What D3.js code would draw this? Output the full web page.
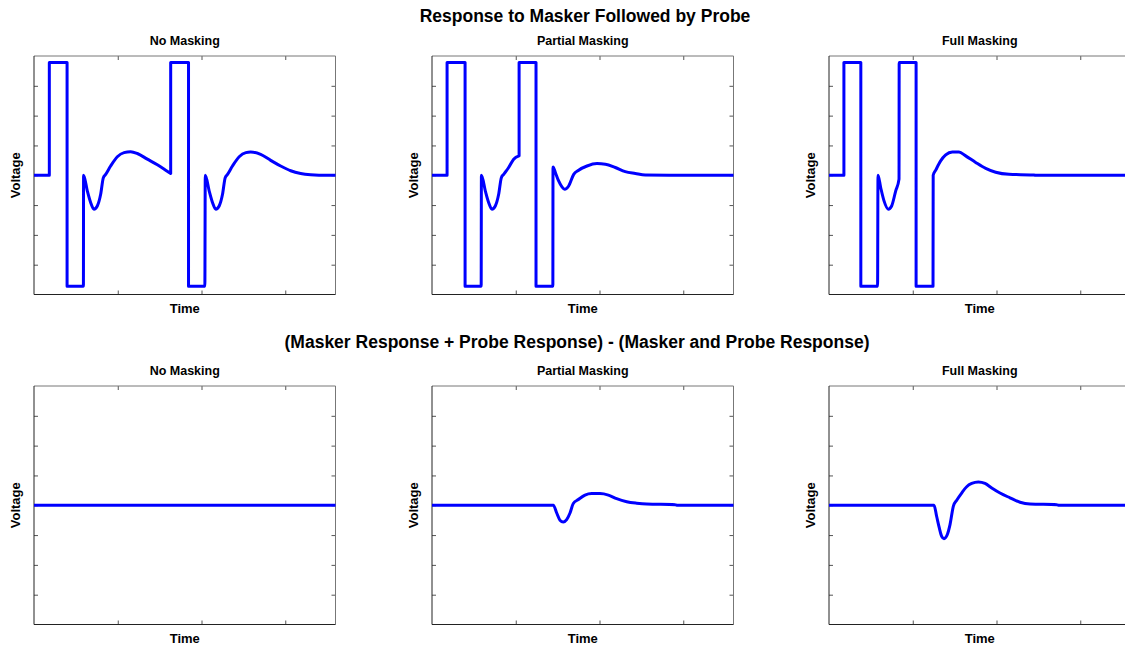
<!DOCTYPE html>
<html>
<head>
<meta charset="utf-8">
<script src="https://cdn.jsdelivr.net/npm/d3@7"></script>
<style>
  body { margin: 0; background: #fff; }
  svg { display: block; font-family: "Liberation Sans", Arial, sans-serif; }
</style>
</head>
<body>
<div id="chart"></div>
<script>
// titles
var rowTitles = ["Response to Masker Followed by Probe",
                 "(Masker Response + Probe Response) - (Masker and Probe Response)"];
var panelTitles = ["No Masking", "Partial Masking", "Full Masking"];

// tick values (labels are hidden, like the original)
var timeTicks = [1, 2, 3];
var voltTicks = [-3, -2, -1, 0, 1, 2, 3];

// top row: response to masker followed by probe
var noMaskTime = [0, 0.183, 0.183, 0.395, 0.395, 0.59, 0.592, 0.637, 0.677, 0.716, 0.756, 0.796, 0.828, 0.856, 0.915, 0.995, 1.075, 1.154, 1.234, 1.353, 1.473, 1.572, 1.632,
                  1.632, 1.845, 1.845, 2.04, 2.045, 2.092, 2.132, 2.171, 2.211, 2.251, 2.283, 2.311, 2.37, 2.45, 2.53, 2.587, 2.706, 2.826, 2.945, 3.065, 3.184, 3.303, 3.502, 3.6];
var noMaskVolt = [0, 0, 3.78, 3.78, -3.72, -3.72, 0, -0.53, -0.92, -1.14, -1.03, -0.64, -0.08, 0.03, 0.31, 0.62, 0.76, 0.79, 0.73, 0.54, 0.35, 0.17, 0.06,
                  3.78, 3.78, -3.72, -3.72, 0, -0.53, -0.92, -1.14, -1.03, -0.64, -0.08, 0.03, 0.31, 0.62, 0.76, 0.78, 0.70, 0.50, 0.31, 0.15, 0.06, 0.02, 0, 0];

var partMaskTime = [0, 0.18, 0.18, 0.395, 0.395, 0.587, 0.59, 0.637, 0.677, 0.716, 0.756, 0.796, 0.828, 0.856, 0.915, 0.975, 1.04,
                    1.04, 1.242, 1.242, 1.443, 1.445, 1.473, 1.512, 1.552, 1.584, 1.632, 1.692, 1.751, 1.851, 1.97, 2.07, 2.189, 2.308, 2.428, 2.547, 2.925, 3.6];
var partMaskVolt = [0, 0, 3.78, 3.78, -3.72, -3.72, 0, -0.53, -0.92, -1.14, -1.03, -0.64, -0.08, 0.03, 0.26, 0.54, 0.65,
                    3.78, 3.78, -3.72, -3.72, 0.28, 0.09, -0.19, -0.39, -0.47, -0.36, 0.03, 0.17, 0.31, 0.39, 0.37, 0.26, 0.12, 0.06, 0.01, 0, 0];

var fullMaskTime = [0, 0.178, 0.178, 0.38, 0.38, 0.58, 0.585, 0.617, 0.657, 0.708, 0.748, 0.796, 0.836,
                    0.838, 1.04, 1.04, 1.242, 1.244, 1.274, 1.333, 1.393, 1.473, 1.552, 1.632, 1.751, 1.871, 1.99, 2.149, 2.428, 2.468, 3.6];
var fullMaskVolt = [0, 0, 3.78, 3.78, -3.72, -3.72, 0, -0.41, -0.86, -1.14, -1.03, -0.53, -0.13,
                    3.78, 3.78, -3.72, -3.72, 0, 0.17, 0.48, 0.68, 0.78, 0.78, 0.65, 0.43, 0.23, 0.10, 0.03, 0.01, 0, 0];

// bottom row: (masker + probe) - (masker and probe)
var noDiffTime = [0, 3.6];
var noDiffVolt = [0, 0];

var partDiffTime = [0, 1.449, 1.489, 1.528, 1.568, 1.608, 1.648, 1.687, 1.747, 1.827, 1.907, 2.006, 2.106, 2.205, 2.325, 2.444, 2.563, 2.902, 2.922, 3.6];
var partDiffVolt = [0, 0, -0.26, -0.50, -0.56, -0.48, -0.26, 0.06, 0.19, 0.34, 0.39, 0.39, 0.34, 0.22, 0.12, 0.07, 0.04, 0.02, 0, 0];

var fullDiffTime = [0, 1.254, 1.285, 1.317, 1.345, 1.373, 1.413, 1.445, 1.485, 1.525, 1.584, 1.644, 1.704, 1.783, 1.863, 1.943, 2.042, 2.161, 2.281, 2.4, 2.718, 2.738, 3.6];
var fullDiffVolt = [0, 0, -0.37, -0.76, -1.04, -1.12, -0.98, -0.65, -0.03, 0.17, 0.41, 0.62, 0.73, 0.78, 0.73, 0.58, 0.41, 0.25, 0.10, 0.04, 0.02, 0, 0];

var rows = [
    [[noMaskTime, noMaskVolt], [partMaskTime, partMaskVolt], [fullMaskTime, fullMaskVolt]],
    [[noDiffTime, noDiffVolt], [partDiffTime, partDiffVolt], [fullDiffTime, fullDiffVolt]]
];

var W = 1125, H = 648;
var panelLeft = [34, 432, 829];
var panelWidth = 301.5;
var rowTop = [56, 386];
var panelHeight = 238.5;
var rowTitleY = [22, 348];

var svg = d3.select("#chart").append("svg")
    .attr("width", W)
    .attr("height", H);

svg.append("rect").attr("width", W).attr("height", H).attr("fill", "#fff");

// smooth where time increases, straight where the trace jumps vertically
function tracePath(pts, line) {
    var runs = [[pts[0]]];
    for (var i = 1; i < pts.length; i++) {
        if (pts[i][0] === pts[i - 1][0]) runs.push([pts[i]]);
        else runs[runs.length - 1].push(pts[i]);
    }
    return runs.map(function(run, i) {
        var s = run.length > 1 ? line(run) : "M" + line.x()(run[0]) + "," + line.y()(run[0]);
        return i ? "L" + s.slice(1) : s;
    }).join("");
}

rows.forEach(function(row, r) {
    svg.append("text")
        .attr("x", 585 - r * 8)
        .attr("y", rowTitleY[r])
        .attr("text-anchor", "middle")
        .attr("font-size", 17.5)
        .attr("font-weight", "bold")
        .text(rowTitles[r]);

    row.forEach(function(series, c) {
        var x = d3.scaleLinear().domain([0, 3.6]).range([panelLeft[c], panelLeft[c] + panelWidth]);
        var y = d3.scaleLinear().domain([-4, 4]).range([rowTop[r] + panelHeight, rowTop[r]]);
        var g = svg.append("g").attr("class", "panel");

        // ticks on all four sides, pointing inward, no labels
        g.append("g").attr("transform", "translate(0," + y(-4) + ")")
            .call(d3.axisBottom(x).tickValues(timeTicks).tickSize(-4).tickFormat(""));
        g.append("g").attr("transform", "translate(0," + y(4) + ")")
            .call(d3.axisTop(x).tickValues(timeTicks).tickSize(-4).tickFormat(""));
        g.append("g").attr("transform", "translate(" + x(0) + ",0)")
            .call(d3.axisLeft(y).tickValues(voltTicks).tickSize(-4).tickFormat(""));
        g.append("g").attr("transform", "translate(" + x(3.6) + ",0)")
            .call(d3.axisRight(y).tickValues(voltTicks).tickSize(-4).tickFormat(""));
        g.selectAll(".domain").remove();
        g.selectAll(".tick line").attr("stroke", "#555");

        // box
        g.append("line").attr("x1", x(0)).attr("x2", x(3.6)).attr("y1", y(4)).attr("y2", y(4)).attr("stroke", "#777");
        g.append("line").attr("x1", x(3.6)).attr("x2", x(3.6)).attr("y1", y(4)).attr("y2", y(-4)).attr("stroke", "#777");
        g.append("line").attr("x1", x(0)).attr("x2", x(3.6)).attr("y1", y(-4)).attr("y2", y(-4)).attr("stroke", "#222");
        g.append("line").attr("x1", x(0)).attr("x2", x(0)).attr("y1", y(4)).attr("y2", y(-4)).attr("stroke", "#222");

        var line = d3.line()
            .x(function(d) { return x(d[0]); })
            .y(function(d) { return y(d[1]); })
            .curve(d3.curveMonotoneX);

        g.append("path")
            .attr("fill", "none")
            .attr("stroke", "#0000ff")
            .attr("stroke-width", 3)
            .attr("stroke-linejoin", "round")
            .attr("d", tracePath(d3.zip(series[0], series[1]), line));

        var cx = panelLeft[c] + panelWidth / 2;
        g.append("text")
            .attr("x", cx)
            .attr("y", rowTop[r] - 11)
            .attr("text-anchor", "middle")
            .attr("font-size", 12.5)
            .attr("font-weight", "bold")
            .text(panelTitles[c]);
        g.append("text")
            .attr("x", cx)
            .attr("y", rowTop[r] + panelHeight + 18)
            .attr("text-anchor", "middle")
            .attr("font-size", 13)
            .attr("font-weight", "bold")
            .text("Time");
        g.append("text")
            .attr("transform", "translate(" + (panelLeft[c] - 14) + "," + (rowTop[r] + panelHeight / 2) + ") rotate(-90)")
            .attr("text-anchor", "middle")
            .attr("font-size", 13)
            .attr("font-weight", "bold")
            .text("Voltage");
    });
});
</script>
</body>
</html>
